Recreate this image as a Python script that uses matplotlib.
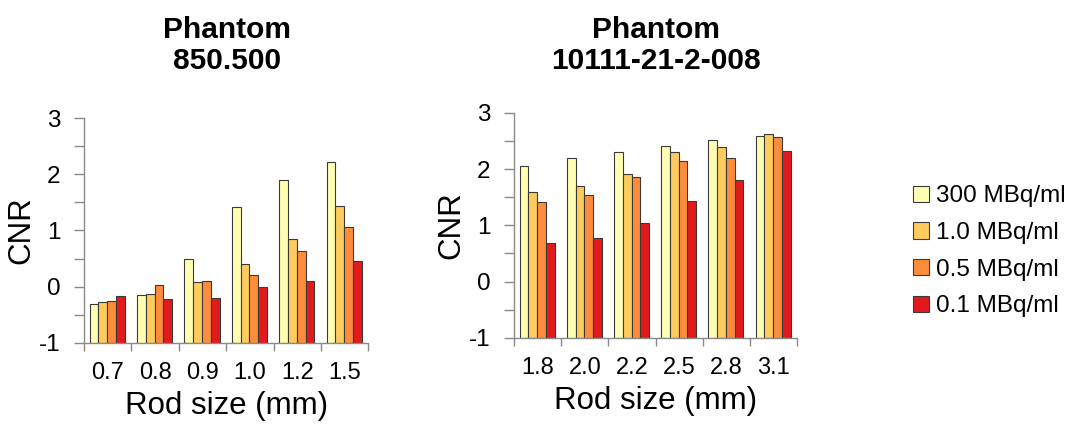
import numpy as np
import matplotlib
matplotlib.use('Agg')
import matplotlib.pyplot as plt
from matplotlib.patches import Patch

plt.rcParams['font.family'] = ['Liberation Sans', 'DejaVu Sans']

# Data
series_labels = ['300 MBq/ml', '1.0 MBq/ml', '0.5 MBq/ml', '0.1 MBq/ml']
series_colors = ['#FFFFB2', '#FECC5C', '#FD8D3C', '#E31A1C']

left_title = 'Phantom\n850.500'
left_rods = ['0.7', '0.8', '0.9', '1.0', '1.2', '1.5']
left_300 = [-0.30, -0.15, 0.49, 1.41, 1.90, 2.21]
left_10 = [-0.27, -0.13, 0.09, 0.40, 0.84, 1.44]
left_05 = [-0.26, 0.03, 0.11, 0.20, 0.63, 1.06]
left_01 = [-0.17, -0.21, -0.20, -0.01, 0.11, 0.45]

right_title = 'Phantom\n10111-21-2-008'
right_rods = ['1.8', '2.0', '2.2', '2.5', '2.8', '3.1']
right_300 = [2.06, 2.20, 2.30, 2.42, 2.52, 2.59]
right_10 = [1.59, 1.70, 1.92, 2.30, 2.39, 2.62]
right_05 = [1.41, 1.54, 1.86, 2.14, 2.20, 2.57]
right_01 = [0.68, 0.77, 1.04, 1.44, 1.81, 2.33]

SPINE = '#8a8a8a'
BAR_W = 0.185
Y_MIN, Y_MAX = -1, 3


def draw_panel(ax, rods, series):
    x = np.arange(len(rods))
    # bars grow from the bottom of the axis (-1), as in the original
    for k, (vals, col) in enumerate(zip(series, series_colors)):
        heights = np.array(vals) - Y_MIN
        ax.bar(x + (k - 1.5) * BAR_W - 0.01, heights, BAR_W, bottom=Y_MIN,
               color=col, edgecolor='#3a3a3a', linewidth=0.8, zorder=2)
    ax.set_xlim(-0.5, len(rods) - 0.5)
    ax.set_ylim(Y_MIN, Y_MAX)
    for s in ('top', 'right'):
        ax.spines[s].set_visible(False)
    for s in ('left', 'bottom'):
        ax.spines[s].set_color(SPINE)
        ax.spines[s].set_linewidth(1.0)
    # ticks at group boundaries, labels at group centres
    ax.set_xticks(np.arange(len(rods) + 1) - 0.5)
    ax.set_xticklabels([])
    ax.set_xticks(x, minor=True)
    ax.set_xticklabels(rods, minor=True)
    ax.tick_params(axis='x', which='major', length=6, width=1.0, color=SPINE)
    ax.tick_params(axis='x', which='minor', length=0, pad=14, labelsize=17)
    ax.set_yticks([-1, 0, 1, 2, 3])
    ax.set_yticklabels(['-1', '0', '1', '2', '3'])
    ax.set_yticks(np.arange(-0.5, 3, 1.0), minor=True)
    ax.tick_params(axis='y', which='both', length=7, width=1.0, color=SPINE,
                   labelsize=17.5, pad=10)
    ax.set_xlabel('Rod size (mm)', fontsize=22.5, labelpad=5)
    ax.set_ylabel('CNR', fontsize=22.5, labelpad=2)


fig = plt.figure(figsize=(10.73, 4.26), dpi=100)
ax1 = fig.add_axes([0.0783, 0.195, 0.265, 0.528])
ax2 = fig.add_axes([0.479, 0.207, 0.264, 0.528])

draw_panel(ax1, left_rods, [left_300, left_10, left_05, left_01])
draw_panel(ax2, right_rods, [right_300, right_10, right_05, right_01])

fig.text(0.212, 0.825, left_title, ha='center', va='bottom',
         fontsize=21.5, fontweight='bold', linespacing=1.1)
fig.text(0.611, 0.825, right_title, ha='center', va='bottom',
         fontsize=21.5, fontweight='bold', linespacing=1.1)

handles = [Patch(facecolor=c, edgecolor='#3a3a3a', linewidth=0.8)
           for c in series_colors]
fig.legend(handles, series_labels, loc='center left',
           bbox_to_anchor=(0.851, 0.41), frameon=False, fontsize=17.5,
           handlelength=0.65, handleheight=0.65, handletextpad=0.3,
           labelspacing=0.6, borderpad=0, borderaxespad=0)

fig.savefig('out.png', dpi=100, facecolor='white')
